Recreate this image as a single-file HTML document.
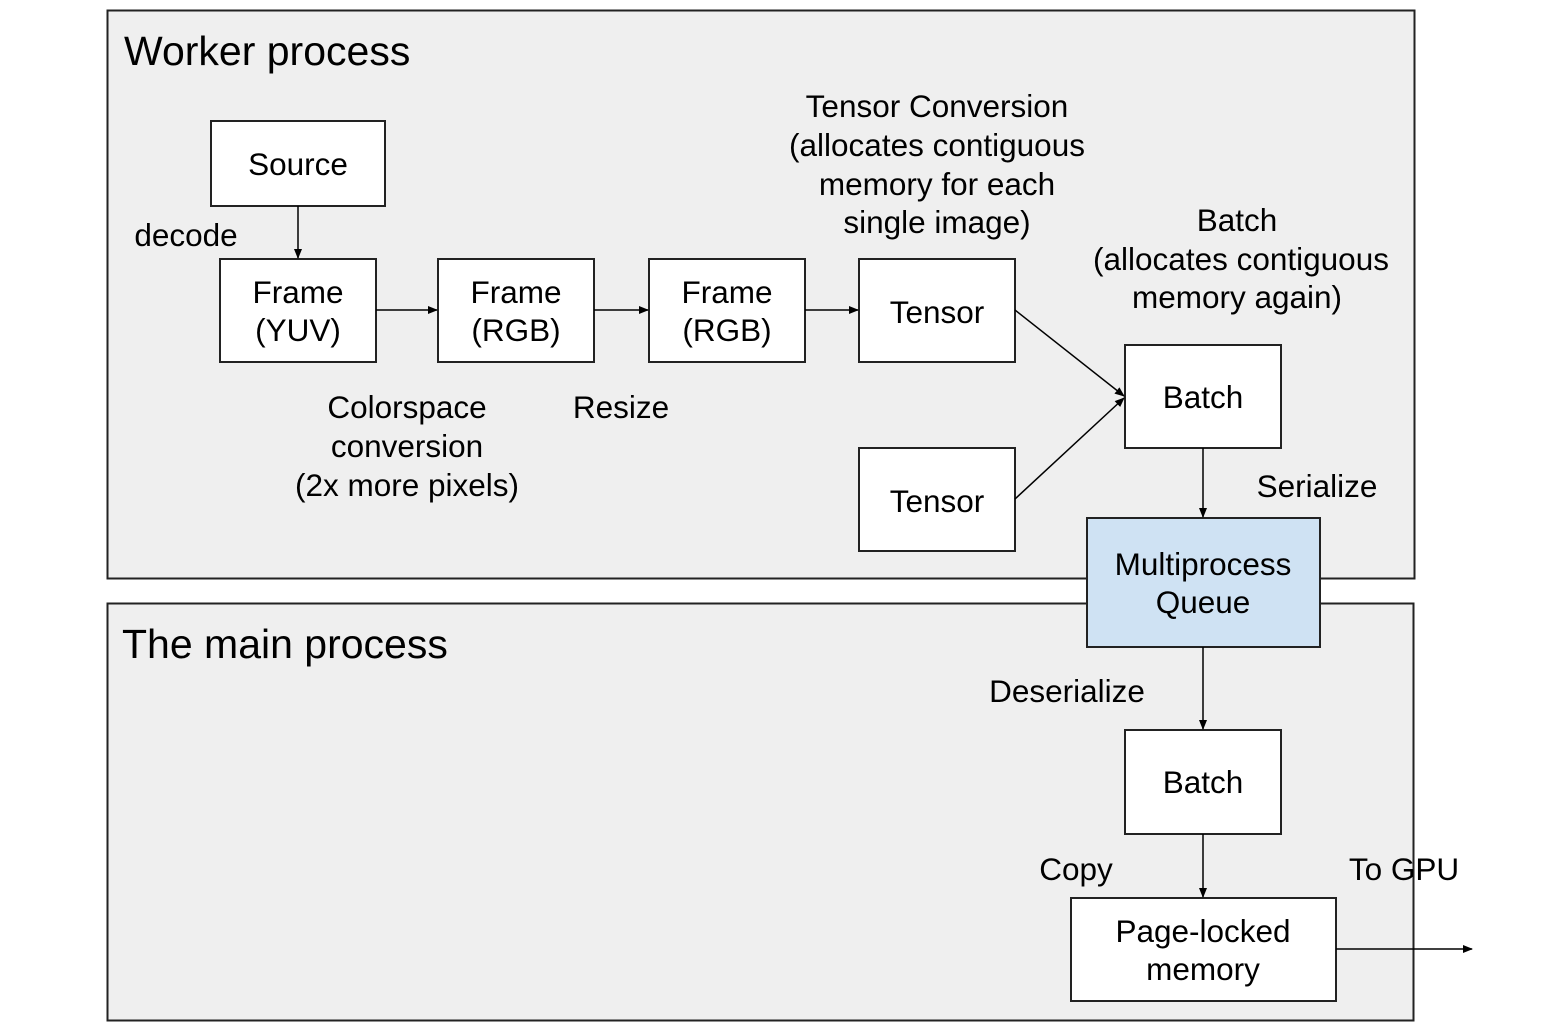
<!DOCTYPE html>
<html><head><meta charset="utf-8"><style>
html,body{margin:0;padding:0;background:#fff;}
svg{display:block;}
text{font-family:"Liberation Sans",Arial,sans-serif;fill:#000;}
</style></head><body>
<svg width="1554" height="1034" viewBox="0 0 1554 1034" xmlns="http://www.w3.org/2000/svg">
<defs>
<marker id="a" markerWidth="10" markerHeight="8" refX="9" refY="4" orient="auto" markerUnits="userSpaceOnUse">
<path d="M0,0 L10,4 L0,8 z" fill="#000"/></marker>
</defs>
<rect x="107.5" y="10.5" width="1307" height="568" fill="#efefef" stroke="#222" stroke-width="2"/>
<rect x="107.5" y="603.5" width="1306" height="417" fill="#efefef" stroke="#222" stroke-width="2"/>
<text x="124" y="65" font-size="41">Worker process</text>
<text x="122" y="658" font-size="41">The main process</text>

<g fill="#fff" stroke="#222" stroke-width="2">
<rect x="211" y="121" width="174" height="85"/>
<rect x="220" y="259" width="156" height="103"/>
<rect x="438" y="259" width="156" height="103"/>
<rect x="649" y="259" width="156" height="103"/>
<rect x="859" y="259" width="156" height="103"/>
<rect x="859" y="448" width="156" height="103"/>
<rect x="1125" y="345" width="156" height="103"/>
<rect x="1087" y="518" width="233" height="129" fill="#cfe2f3"/>
<rect x="1125" y="730" width="156" height="104"/>
<rect x="1071" y="898" width="265" height="103"/>
</g>

<g stroke="#000" stroke-width="1.5" fill="none" marker-end="url(#a)">
<line x1="298" y1="206" x2="298" y2="258"/>
<line x1="376" y1="310" x2="437" y2="310"/>
<line x1="594" y1="310" x2="648" y2="310"/>
<line x1="805" y1="310" x2="858" y2="310"/>
<line x1="1015" y1="310" x2="1124" y2="396"/>
<line x1="1015" y1="499" x2="1124" y2="398"/>
<line x1="1203" y1="448" x2="1203" y2="517"/>
<line x1="1203" y1="647" x2="1203" y2="729"/>
<line x1="1203" y1="834" x2="1203" y2="897"/>
<line x1="1336" y1="949" x2="1472" y2="949"/>
</g>

<g font-size="31.5" text-anchor="middle">
<text x="298" y="175">Source</text>
<text x="298" y="303">Frame</text><text x="298" y="341">(YUV)</text>
<text x="516" y="303">Frame</text><text x="516" y="341">(RGB)</text>
<text x="727" y="303">Frame</text><text x="727" y="341">(RGB)</text>
<text x="937" y="323">Tensor</text>
<text x="937" y="512">Tensor</text>
<text x="1203" y="408">Batch</text>
<text x="1203" y="575">Multiprocess</text><text x="1203" y="613">Queue</text>
<text x="1203" y="793">Batch</text>
<text x="1203" y="942">Page-locked</text><text x="1203" y="980">memory</text>
<text x="186" y="246">decode</text>
<text x="407" y="418">Colorspace</text><text x="407" y="457">conversion</text><text x="407" y="496">(2x more pixels)</text>
<text x="621" y="418">Resize</text>
<text x="937" y="117">Tensor Conversion</text><text x="937" y="156">(allocates contiguous</text><text x="937" y="195">memory for each</text><text x="937" y="233">single image)</text>
<text x="1237" y="231">Batch</text><text x="1241" y="270">(allocates contiguous</text><text x="1237" y="308">memory again)</text>
<text x="1317" y="497">Serialize</text>
<text x="1067" y="702">Deserialize</text>
<text x="1076" y="880">Copy</text>
<text x="1404" y="880">To GPU</text>
</g>
</svg>
</body></html>
